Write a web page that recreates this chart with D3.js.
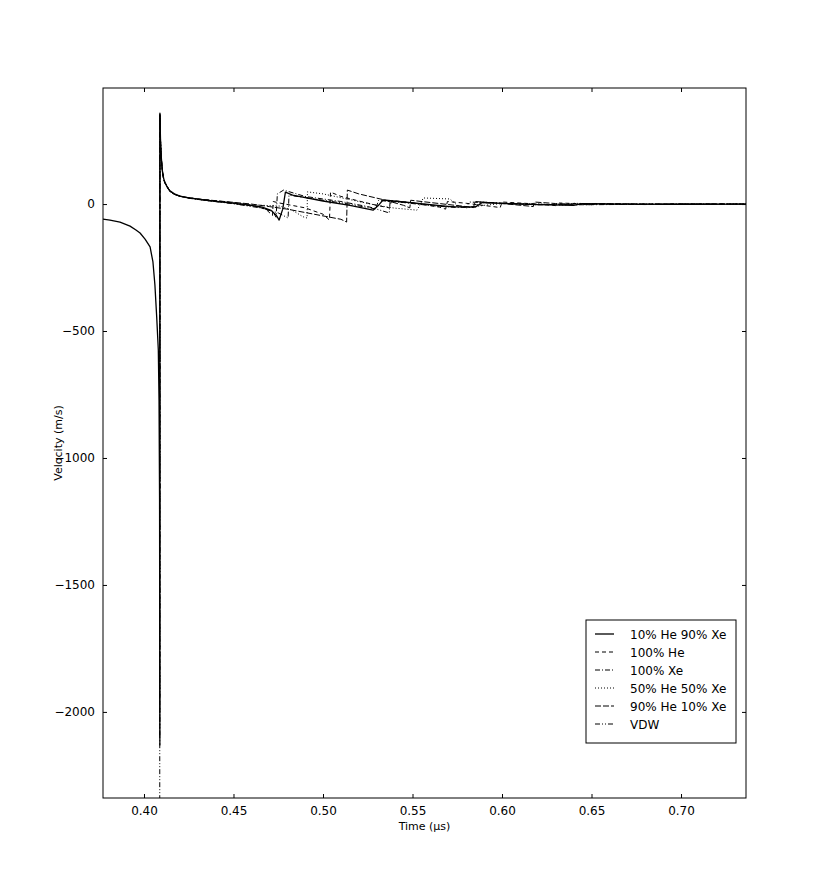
<!DOCTYPE html>
<html>
<head>
<meta charset="utf-8">
<script src="https://cdn.jsdelivr.net/npm/d3@7"></script>
<style>
  body { margin: 0; background: #fff; }
  text { font-family: "DejaVu Sans", sans-serif; fill: #000; }
</style>
</head>
<body>
<div id="velocity_chart"></div>
<script>
// series data: [time (us), velocity (m/s)]
var he10xe90 = [[0.3771,-59],[0.3810,-63],[0.3866,-71],[0.3922,-87],[0.3955,-102],[0.3978,-114],
  [0.4006,-138],[0.4034,-169],[0.4050,-228],[0.4061,-319],[0.4071,-445],[0.4080,-575],
  [0.4084,-772],[0.4087,-1165],[0.40883,-1953],[0.40886,-2130],
  [0.4089,358],[0.4092,260],[0.4096,190],[0.4103,130],[0.411,100],[0.4117,85],[0.413,66],
  [0.4145,52],[0.417,40],[0.4201,31],[0.425,24],[0.4313,18],[0.437,13],
  [0.448,5],[0.46,-5],[0.466,-12],[0.471,-25],[0.474,-45],[0.4755,-63],[0.4775,-20],[0.479,47],[0.483,35],
  [0.50,12],[0.515,-5],[0.528,-24],[0.531,-5],[0.5335,16],[0.545,8],[0.56,-2],[0.571,-10],
  [0.585,-12],[0.589,6],[0.60,3],[0.62,-2],[0.64,-5],[0.645,2],[0.67,0],[0.70,-1],[0.7363,0]];

var he100 = [[0.4088,-2000],[0.4089,355],[0.4092,255],[0.4096,186],[0.4103,128],[0.411,98],
  [0.4117,84],[0.4145,51],[0.417,39],[0.4201,31],[0.425,25],[0.4313,19],[0.448,7],[0.46,-5],
  [0.468,-20],[0.4718,-45],[0.4722,10],[0.475,5],
  [0.49,-15],[0.50,-40],[0.5036,-63],[0.5042,47],[0.51,30],[0.52,12],[0.53,-5],[0.537,-15],
  [0.5385,14],[0.55,5],[0.565,-12],[0.5685,-20],[0.5695,10],[0.58,3],[0.595,-10],[0.599,-14],
  [0.60,8],[0.615,2],[0.63,-6],[0.632,4],[0.65,0],[0.68,-2],[0.70,1],[0.7363,0]];

var xe100 = [[0.4088,-1950],[0.4089,350],[0.4092,258],[0.4096,188],[0.4103,131],[0.411,99],
  [0.4117,86],[0.4145,51],[0.417,39],[0.4201,31],[0.425,23],[0.4313,17],[0.448,4],[0.465,-12],
  [0.472,-30],[0.4738,-52],[0.4745,40],[0.478,55],
  [0.49,30],[0.51,10],[0.525,-10],[0.5295,-18],[0.531,14],[0.545,6],[0.56,-6],[0.575,-14],
  [0.585,-10],[0.588,8],[0.61,0],[0.64,-3],[0.70,0],[0.7363,0]];

var he50xe50 = [[0.4088,-2050],[0.4089,350],[0.4092,252],[0.4096,184],[0.4103,126],[0.411,97],
  [0.4117,83],[0.4145,49],[0.417,38],[0.4201,30],[0.425,24],[0.4313,18],[0.448,6],[0.46,-3],
  [0.476,-8],[0.483,-25],[0.4888,-50],[0.4911,-55],
  [0.4913,48],[0.50,40],[0.51,25],[0.52,10],[0.53,-5],[0.54,-16],[0.5525,-24],[0.5545,0],
  [0.556,24],[0.5709,20],[0.575,-5],[0.58,-15],[0.59,-5],[0.60,2],[0.62,0],[0.635,-4],
  [0.64,3],[0.66,0],[0.7363,0]];

var he90xe10 = [[0.4088,-2100],[0.4089,352],[0.4092,250],[0.4096,182],[0.4103,125],[0.411,96],
  [0.4117,82],[0.4145,49],[0.417,38],[0.4201,30],[0.425,25],[0.4313,19],[0.448,8],[0.46,0],
  [0.47,-10],[0.48,-20],[0.495,-40],[0.51,-60],
  [0.5132,-71],[0.5136,55],[0.52,40],[0.535,15],[0.545,-5],[0.5485,-15],[0.549,15],[0.56,6],
  [0.58,-10],[0.584,-14],[0.585,10],[0.60,2],[0.615,-8],[0.6175,-10],[0.618,8],[0.63,2],
  [0.65,-3],[0.652,2],[0.68,0],[0.7363,0]];

var vdw = [[0.4088,-2450],[0.4089,345],[0.4092,256],[0.4096,187],[0.4103,129],[0.411,98],
  [0.4117,84],[0.4145,50],[0.417,38],[0.4201,30],[0.425,23],[0.4313,17],[0.448,3],[0.465,-15],
  [0.475,-35],[0.4805,-55],[0.481,35],
  [0.49,25],[0.51,5],[0.53,-20],[0.537,-35],[0.5375,12],[0.55,5],[0.565,-8],[0.58,-12],
  [0.582,8],[0.60,2],[0.62,-3],[0.65,0],[0.7363,0]];

var seriesNames = ["10% He 90% Xe","100% He","100% Xe","50% He 50% Xe","90% He 10% Xe","VDW"];
var seriesData = [he10xe90, he100, xe100, he50xe50, he90xe10, vdw];
var seriesDash = [null, "4,3", "5,2,1,2", "1,2", "6,2", "5,2,1,2,1,2"];

var xTicks = [0.40, 0.45, 0.50, 0.55, 0.60, 0.65, 0.70];
var yTicks = [0, -500, -1000, -1500, -2000];

var margin = {top: 88, right: 84, bottom: 92, left: 103},
    width = 830 - margin.left - margin.right,
    height = 890 - margin.top - margin.bottom;

var svg = d3.select("#velocity_chart")
    .append("svg")
    .attr("width", 830)
    .attr("height", 890);

var g_body = svg.append("g").attr("transform", "translate(" + margin.left + "," + margin.top + ")");

var x = d3.scaleLinear().domain([0.3771, 0.7363]).range([0, width]);
var y = d3.scaleLinear().domain([-2339, 457]).range([height, 0]);

svg.append("defs").append("clipPath").attr("id", "plot_clip")
    .append("rect").attr("width", width).attr("height", height);

// ticks point inwards on all four sides, matplotlib style
var xb = g_body.append("g").attr("transform", "translate(0," + height + ")")
    .call(d3.axisBottom(x).tickValues(xTicks).tickSizeInner(-4).tickSizeOuter(0).tickPadding(8).tickFormat(d3.format(".2f")));
var xt = g_body.append("g")
    .call(d3.axisTop(x).tickValues(xTicks).tickSizeInner(-4).tickSizeOuter(0).tickFormat(""));
var yl = g_body.append("g")
    .call(d3.axisLeft(y).tickValues(yTicks).tickSizeInner(-4).tickSizeOuter(0).tickPadding(8)
      .tickFormat(function(d) { return d < 0 ? "\u2212" + Math.abs(d) : d; }));
var yr = g_body.append("g").attr("transform", "translate(" + width + ",0)")
    .call(d3.axisRight(y).tickValues(yTicks).tickSizeInner(-4).tickSizeOuter(0).tickFormat(""));

[xb, xt, yl, yr].forEach(function(a) {
  a.select(".domain").remove();
  a.selectAll("line").attr("stroke", "#000");
  a.selectAll("text").attr("font-size", 12).attr("font-family", "DejaVu Sans, sans-serif");
});

var line = d3.line()
    .x(function(d) { return x(d[0]); })
    .y(function(d) { return y(d[1]); });

var g_lines = g_body.append("g").attr("clip-path", "url(#plot_clip)");
seriesData.forEach(function(s, i) {
  g_lines.append("path")
      .datum(s)
      .attr("d", line)
      .attr("fill", "none")
      .attr("stroke", "#000")
      .attr("stroke-width", i == 0 ? 1.3 : 1)
      .attr("stroke-linejoin", "round")
      .attr("stroke-dasharray", seriesDash[i]);
});

// frame
g_body.append("rect")
    .attr("width", width).attr("height", height)
    .attr("fill", "none").attr("stroke", "#000").attr("stroke-width", 1);

//title of x_axis
svg.append("text")
    .attr("x", margin.left + width / 2).attr("y", 830)
    .attr("text-anchor", "middle").attr("font-size", 11)
    .text("Time (\u00b5s)");

//title of y_axis
svg.append("text")
    .attr("transform", "translate(62," + (margin.top + height / 2) + ") rotate(-90)")
    .attr("text-anchor", "middle").attr("font-size", 11)
    .text("Velocity (m/s)");

// legend
var g_legend = svg.append("g").attr("transform", "translate(586,620)");
g_legend.append("rect")
    .attr("width", 150).attr("height", 123)
    .attr("fill", "#fff").attr("stroke", "#000").attr("stroke-width", 1);
seriesNames.forEach(function(name, i) {
  var ly = 14 + i * 18;
  g_legend.append("line")
      .attr("x1", 9).attr("x2", 28).attr("y1", ly).attr("y2", ly)
      .attr("stroke", "#000").attr("stroke-width", i == 0 ? 1.3 : 1)
      .attr("stroke-dasharray", seriesDash[i]);
  g_legend.append("text")
      .attr("x", 44).attr("y", ly + 4.5)
      .attr("font-size", 12)
      .text(name);
});
</script>
</body>
</html>
